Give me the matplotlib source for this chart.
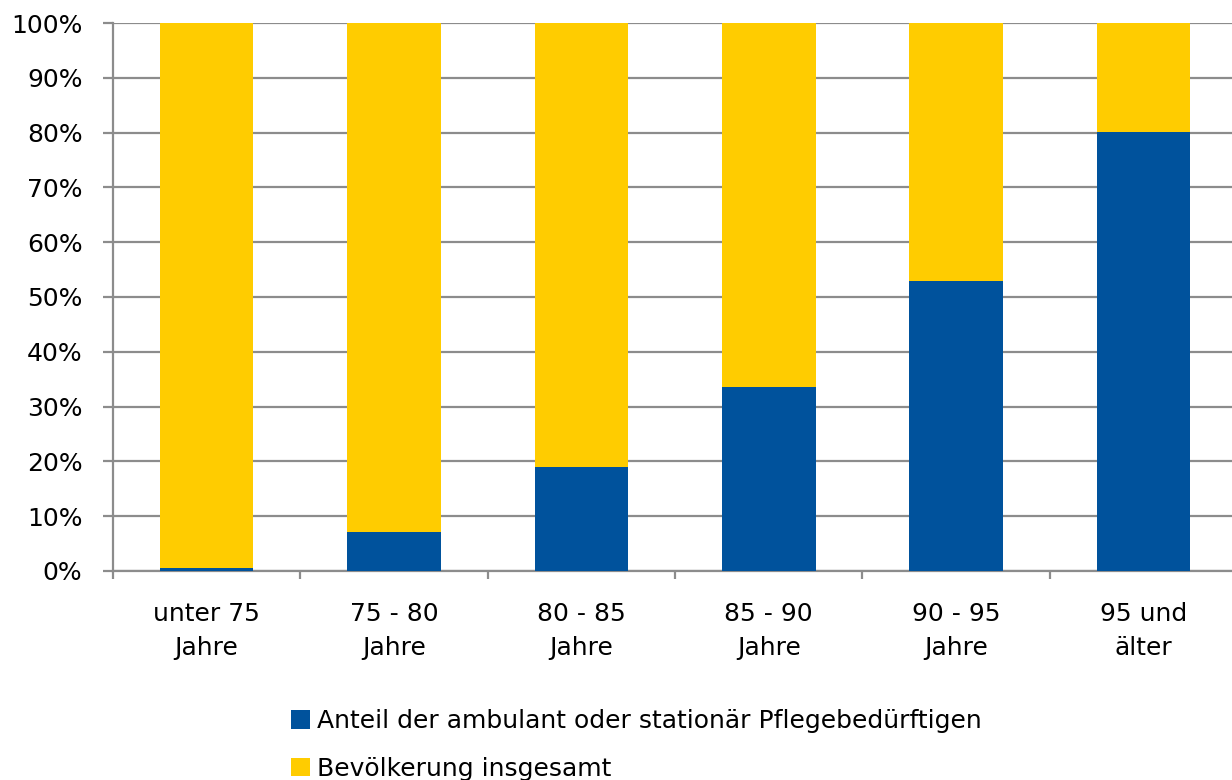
import numpy as np
import matplotlib.pyplot as plt
from matplotlib.ticker import FixedLocator, PercentFormatter

# ---------------------------------------------------------------------------
# Data
# ---------------------------------------------------------------------------
categories = ["unter 75\nJahre", "75 - 80\nJahre", "80 - 85\nJahre",
              "85 - 90\nJahre", "90 - 95\nJahre", "95 und\nälter"]
anteil_pflege = [0.5, 7.1, 19.0, 33.6, 52.9, 80.1]   # percent
bevoelkerung = [100 - v for v in anteil_pflege]        # rest up to 100 %

label_pflege = "Anteil der ambulant oder stationär Pflegebedürftigen"
label_bev = "Bevölkerung insgesamt"

BLUE = "#00529C"
YELLOW = "#FFCC00"
GRID = "#8C8C8C"

plt.rcParams['font.family'] = ['DejaVu Sans']

fig = plt.figure(figsize=(12.32, 7.8), dpi=100)
ax = fig.add_axes([0.0917, 0.268, 0.9125, 0.7025])

x = np.arange(len(categories))
ax.bar(x, anteil_pflege, width=0.5, color=BLUE, label=label_pflege, zorder=3)
ax.bar(x, bevoelkerung, width=0.5, bottom=anteil_pflege, color=YELLOW,
       label=label_bev, zorder=3)

ax.set_xlim(-0.5, len(categories) - 0.5)
ax.set_ylim(0, 100)

# y axis
ax.yaxis.set_major_locator(FixedLocator(np.arange(0, 101, 10)))
ax.yaxis.set_major_formatter(PercentFormatter(decimals=0))
ax.grid(axis='y', color=GRID, linewidth=1.6, zorder=0)
ax.tick_params(axis='y', length=7, width=1.6, color=GRID, labelsize=18, pad=15)

# x axis: labels at the centre, ticks at category boundaries
ax.set_xticks(x)
ax.set_xticklabels(categories, fontsize=18, linespacing=1.55)
ax.tick_params(axis='x', which='major', length=0, pad=22)
ax.set_xticks(np.arange(-0.5, len(categories), 1.0), minor=True)
ax.tick_params(axis='x', which='minor', length=6, width=1.6, color=GRID,
               direction='out')

for side in ['top', 'right']:
    ax.spines[side].set_visible(False)
for side in ['left', 'bottom']:
    ax.spines[side].set_color(GRID)
    ax.spines[side].set_linewidth(1.6)

leg = fig.legend(loc='lower left', bbox_to_anchor=(0.228, -0.014),
                 frameon=False, fontsize=18, handlelength=0.75,
                 handleheight=0.75, handletextpad=0.3, labelspacing=0.95,
                 borderaxespad=0)

fig.savefig("out.png", dpi=100)
